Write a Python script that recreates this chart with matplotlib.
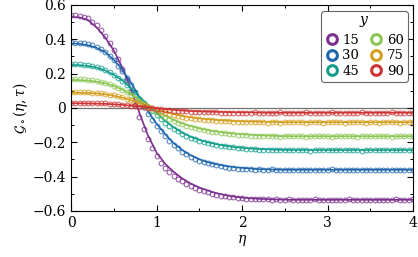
import numpy as np
import matplotlib
matplotlib.use('Agg')
import matplotlib.pyplot as plt
from matplotlib.lines import Line2D
from matplotlib.ticker import MultipleLocator, FuncFormatter

plt.rcParams['font.family'] = ['DejaVu Serif']
plt.rcParams['mathtext.fontset'] = 'dejavuserif'

# sample grids (fit curves every 0.1, data every 0.05)
eta_fit = np.arange(41) / 10
eta_data = np.arange(81) / 20

y_labels = ['15', '30', '45', '60', '75', '90']
colors = ['#7b2f8e', '#1f66ad', '#139e8c', '#8cc653', '#d49e1e', '#cf3434']

# fitted curves
fit_15 = [0.530, 0.527, 0.512, 0.468, 0.410, 0.335, 0.235, 0.110, -0.030, -0.160,
          -0.260, -0.325, -0.372, -0.410, -0.440, -0.463, -0.481, -0.496, -0.507, -0.516,
          -0.522, -0.526, -0.529, -0.531, -0.533, -0.534, -0.535, -0.535, -0.535, -0.535,
          -0.535, -0.535, -0.535, -0.535, -0.535, -0.535, -0.535, -0.535, -0.535, -0.535, -0.535]
fit_30 = [0.375, 0.373, 0.365, 0.350, 0.325, 0.280, 0.222, 0.148, 0.063, -0.020,
          -0.092, -0.152, -0.205, -0.245, -0.276, -0.299, -0.316, -0.328, -0.337, -0.344,
          -0.349, -0.353, -0.356, -0.358, -0.359, -0.360, -0.360, -0.360, -0.360, -0.360,
          -0.360, -0.360, -0.360, -0.360, -0.360, -0.360, -0.360, -0.360, -0.360, -0.360, -0.360]
fit_45 = [0.250, 0.249, 0.244, 0.235, 0.218, 0.193, 0.160, 0.115, 0.065, 0.018,
          -0.030, -0.075, -0.113, -0.144, -0.168, -0.186, -0.200, -0.211, -0.220, -0.227,
          -0.232, -0.236, -0.239, -0.241, -0.243, -0.244, -0.245, -0.245, -0.245, -0.245,
          -0.245, -0.245, -0.245, -0.245, -0.245, -0.245, -0.245, -0.245, -0.245, -0.245, -0.245]
fit_60 = [0.163, 0.162, 0.159, 0.153, 0.143, 0.128, 0.107, 0.079, 0.047, 0.015,
          -0.016, -0.045, -0.070, -0.090, -0.106, -0.119, -0.129, -0.137, -0.144, -0.149,
          -0.153, -0.156, -0.159, -0.161, -0.163, -0.164, -0.165, -0.165, -0.165, -0.165,
          -0.165, -0.165, -0.165, -0.165, -0.165, -0.165, -0.165, -0.165, -0.165, -0.165, -0.165]
fit_75 = [0.088, 0.088, 0.087, 0.084, 0.079, 0.071, 0.060, 0.045, 0.028, 0.010,
          -0.007, -0.023, -0.036, -0.047, -0.055, -0.061, -0.066, -0.070, -0.073, -0.076,
          -0.078, -0.079, -0.080, -0.081, -0.082, -0.083, -0.083, -0.083, -0.083, -0.083,
          -0.083, -0.083, -0.083, -0.083, -0.083, -0.083, -0.083, -0.083, -0.083, -0.083, -0.083]
fit_90 = [0.027, 0.027, 0.026, 0.025, 0.024, 0.021, 0.018, 0.013, 0.008, 0.003,
          -0.002, -0.007, -0.011, -0.015, -0.018, -0.020, -0.022, -0.023, -0.024, -0.025,
          -0.026, -0.026, -0.027, -0.028, -0.028, -0.028, -0.028, -0.028, -0.028, -0.028,
          -0.028, -0.028, -0.028, -0.028, -0.028, -0.028, -0.028, -0.028, -0.028, -0.028, -0.028]

# measured points
data_15 = [0.542, 0.541, 0.537, 0.530, 0.522, 0.503, 0.480, 0.452, 0.420, 0.378,
           0.335, 0.283, 0.225, 0.160, 0.090, 0.020, -0.052, -0.120, -0.182, -0.235,
           -0.280, -0.318, -0.348, -0.373, -0.394, -0.413, -0.428, -0.443, -0.455, -0.466,
           -0.476, -0.485, -0.492, -0.499, -0.505, -0.510, -0.515, -0.518, -0.521, -0.524,
           -0.526,
           -0.528, -0.530, -0.529, -0.532, -0.531, -0.533, -0.534, -0.532, -0.535, -0.536,
           -0.533, -0.535, -0.537, -0.534, -0.536, -0.535, -0.533, -0.536, -0.537, -0.535,
           -0.534, -0.538, -0.536, -0.535, -0.533, -0.536, -0.537, -0.535, -0.536, -0.534,
           -0.535, -0.537, -0.536, -0.534, -0.535, -0.533, -0.535, -0.536, -0.534, -0.532]
data_30 = [0.381, 0.380, 0.379, 0.376, 0.371, 0.364, 0.355, 0.342, 0.326, 0.304,
           0.277, 0.247, 0.214, 0.176, 0.136, 0.093, 0.050, 0.008, -0.033, -0.070,
           -0.105, -0.136, -0.165, -0.192, -0.216, -0.236, -0.255, -0.271, -0.285, -0.297,
           -0.307, -0.316, -0.323, -0.329, -0.335, -0.339, -0.343, -0.347, -0.350, -0.353,
           -0.355,
           -0.357, -0.356, -0.359, -0.358, -0.361, -0.360, -0.358, -0.362, -0.364, -0.361,
           -0.360, -0.363, -0.362, -0.359, -0.361, -0.364, -0.362, -0.360, -0.363, -0.361,
           -0.358, -0.362, -0.361, -0.363, -0.360, -0.362, -0.364, -0.361, -0.359, -0.362,
           -0.363, -0.360, -0.361, -0.364, -0.362, -0.360, -0.361, -0.363, -0.361, -0.360]
data_45 = [0.255, 0.255, 0.254, 0.252, 0.249, 0.245, 0.239, 0.230, 0.220, 0.207,
           0.192, 0.174, 0.154, 0.131, 0.106, 0.080, 0.054, 0.029, 0.005, -0.019,
           -0.042, -0.064, -0.085, -0.104, -0.122, -0.137, -0.151, -0.163, -0.174, -0.183,
           -0.191, -0.198, -0.205, -0.210, -0.215, -0.219, -0.223, -0.227, -0.230, -0.233,
           -0.235,
           -0.237, -0.239, -0.240, -0.243, -0.242, -0.245, -0.242, -0.246, -0.244, -0.243,
           -0.247, -0.245, -0.243, -0.246, -0.244, -0.248, -0.245, -0.243, -0.246, -0.244,
           -0.242, -0.245, -0.247, -0.244, -0.243, -0.246, -0.245, -0.248, -0.244, -0.246,
           -0.243, -0.245, -0.247, -0.244, -0.246, -0.243, -0.245, -0.244, -0.246, -0.243]
data_60 = [0.168, 0.168, 0.167, 0.166, 0.164, 0.161, 0.157, 0.152, 0.146, 0.138,
           0.129, 0.118, 0.105, 0.090, 0.074, 0.057, 0.040, 0.023, 0.006, -0.010,
           -0.025, -0.040, -0.054, -0.066, -0.077, -0.087, -0.096, -0.104, -0.111, -0.118,
           -0.124, -0.129, -0.134, -0.138, -0.142, -0.145, -0.148, -0.151, -0.153, -0.155,
           -0.157,
           -0.159, -0.161, -0.161, -0.164, -0.162, -0.166, -0.164, -0.163, -0.167, -0.165,
           -0.164, -0.166, -0.163, -0.165, -0.167, -0.164, -0.166, -0.165, -0.163, -0.166,
           -0.168, -0.165, -0.164, -0.166, -0.163, -0.165, -0.167, -0.164, -0.166, -0.165,
           -0.163, -0.166, -0.164, -0.165, -0.167, -0.164, -0.165, -0.166, -0.163, -0.165]
data_75 = [0.092, 0.092, 0.091, 0.091, 0.090, 0.089, 0.087, 0.085, 0.082, 0.078,
           0.073, 0.068, 0.062, 0.054, 0.046, 0.037, 0.027, 0.017, 0.007, -0.003,
           -0.012, -0.021, -0.029, -0.036, -0.042, -0.048, -0.053, -0.057, -0.061, -0.064,
           -0.067, -0.069, -0.071, -0.073, -0.075, -0.076, -0.077, -0.078, -0.079, -0.080,
           -0.081,
           -0.082, -0.080, -0.084, -0.083, -0.081, -0.085, -0.083, -0.082, -0.086, -0.083,
           -0.081, -0.084, -0.083, -0.080, -0.085, -0.083, -0.082, -0.084, -0.086, -0.083,
           -0.081, -0.084, -0.082, -0.085, -0.083, -0.080, -0.084, -0.083, -0.086, -0.082,
           -0.083, -0.085, -0.081, -0.084, -0.083, -0.082, -0.085, -0.083, -0.084, -0.082]
data_90 = [0.030, 0.029, 0.030, 0.028, 0.029, 0.028, 0.028, 0.027, 0.026, 0.025,
           0.023, 0.021, 0.019, 0.016, 0.013, 0.010, 0.007, 0.004, 0.001, -0.002,
           -0.005, -0.008, -0.010, -0.013, -0.015, -0.017, -0.019, -0.020, -0.022, -0.023,
           -0.024, -0.025, -0.025, -0.026, -0.026, -0.027, -0.027, -0.028, -0.027, -0.028,
           -0.028,
           -0.027, -0.029, -0.026, -0.030, -0.028, -0.027, -0.031, -0.028, -0.026, -0.029,
           -0.028, -0.030, -0.027, -0.029, -0.022, -0.028, -0.030, -0.027, -0.029, -0.028,
           -0.026, -0.030, -0.028, -0.029, -0.027, -0.031, -0.028, -0.026, -0.029, -0.028,
           -0.030, -0.027, -0.029, -0.028, -0.026, -0.030, -0.028, -0.029, -0.027, -0.028]

fits = [fit_15, fit_30, fit_45, fit_60, fit_75, fit_90]
datas = [data_15, data_30, data_45, data_60, data_75, data_90]

fig = plt.figure(figsize=(4.18, 2.57), dpi=100)
ax = fig.add_axes([0.170, 0.179, 0.818, 0.802])

ax.axhline(0, color='0.45', lw=0.9, zorder=0.5)

for fit, dat, c in zip(fits, datas, colors):
    ax.plot(eta_data, dat, 'o', ms=3.4, mfc='none', mec=c, mew=0.8, alpha=0.75)
    ax.plot(eta_fit, fit, '-', color=c, lw=1.2)

ax.set_xlim(0, 4)
ax.set_ylim(-0.6, 0.6)
ax.xaxis.set_major_locator(MultipleLocator(1))
ax.xaxis.set_minor_locator(MultipleLocator(0.5))
ax.yaxis.set_major_locator(MultipleLocator(0.2))
ax.yaxis.set_minor_locator(MultipleLocator(0.1))
fmt = FuncFormatter(lambda v, p: ('%g' % round(v, 2)).replace('-', '\u2212'))
ax.xaxis.set_major_formatter(fmt)
ax.yaxis.set_major_formatter(fmt)
ax.tick_params(which='both', direction='in', top=True, right=True, labelsize=10)
ax.tick_params(which='major', length=4, width=0.8)
ax.tick_params(which='minor', length=2.5, width=0.7)

ax.set_xlabel(r'$\eta$', fontsize=10, labelpad=2)
ax.set_ylabel(r'$\mathcal{G}_\circ(\eta,\tau)$', fontsize=10, labelpad=2)

# legend with thick rings, two columns
handles = [Line2D([], [], ls='none', marker='o', ms=7, mfc='none', mec=c, mew=2.2)
           for c in colors]
leg = ax.legend(handles, y_labels, title=r'$y$', ncol=2, loc='upper right',
                bbox_to_anchor=(0.985, 0.97), borderaxespad=0, fontsize=9.5,
                title_fontsize=10, handlelength=1.0, handletextpad=0.3,
                columnspacing=0.8, labelspacing=0.2, borderpad=0.3,
                fancybox=True, framealpha=1, edgecolor='0.4')
leg.get_frame().set_linewidth(0.8)
leg.get_title().set_position((0, 2))

fig.savefig('out.png', dpi=100)
